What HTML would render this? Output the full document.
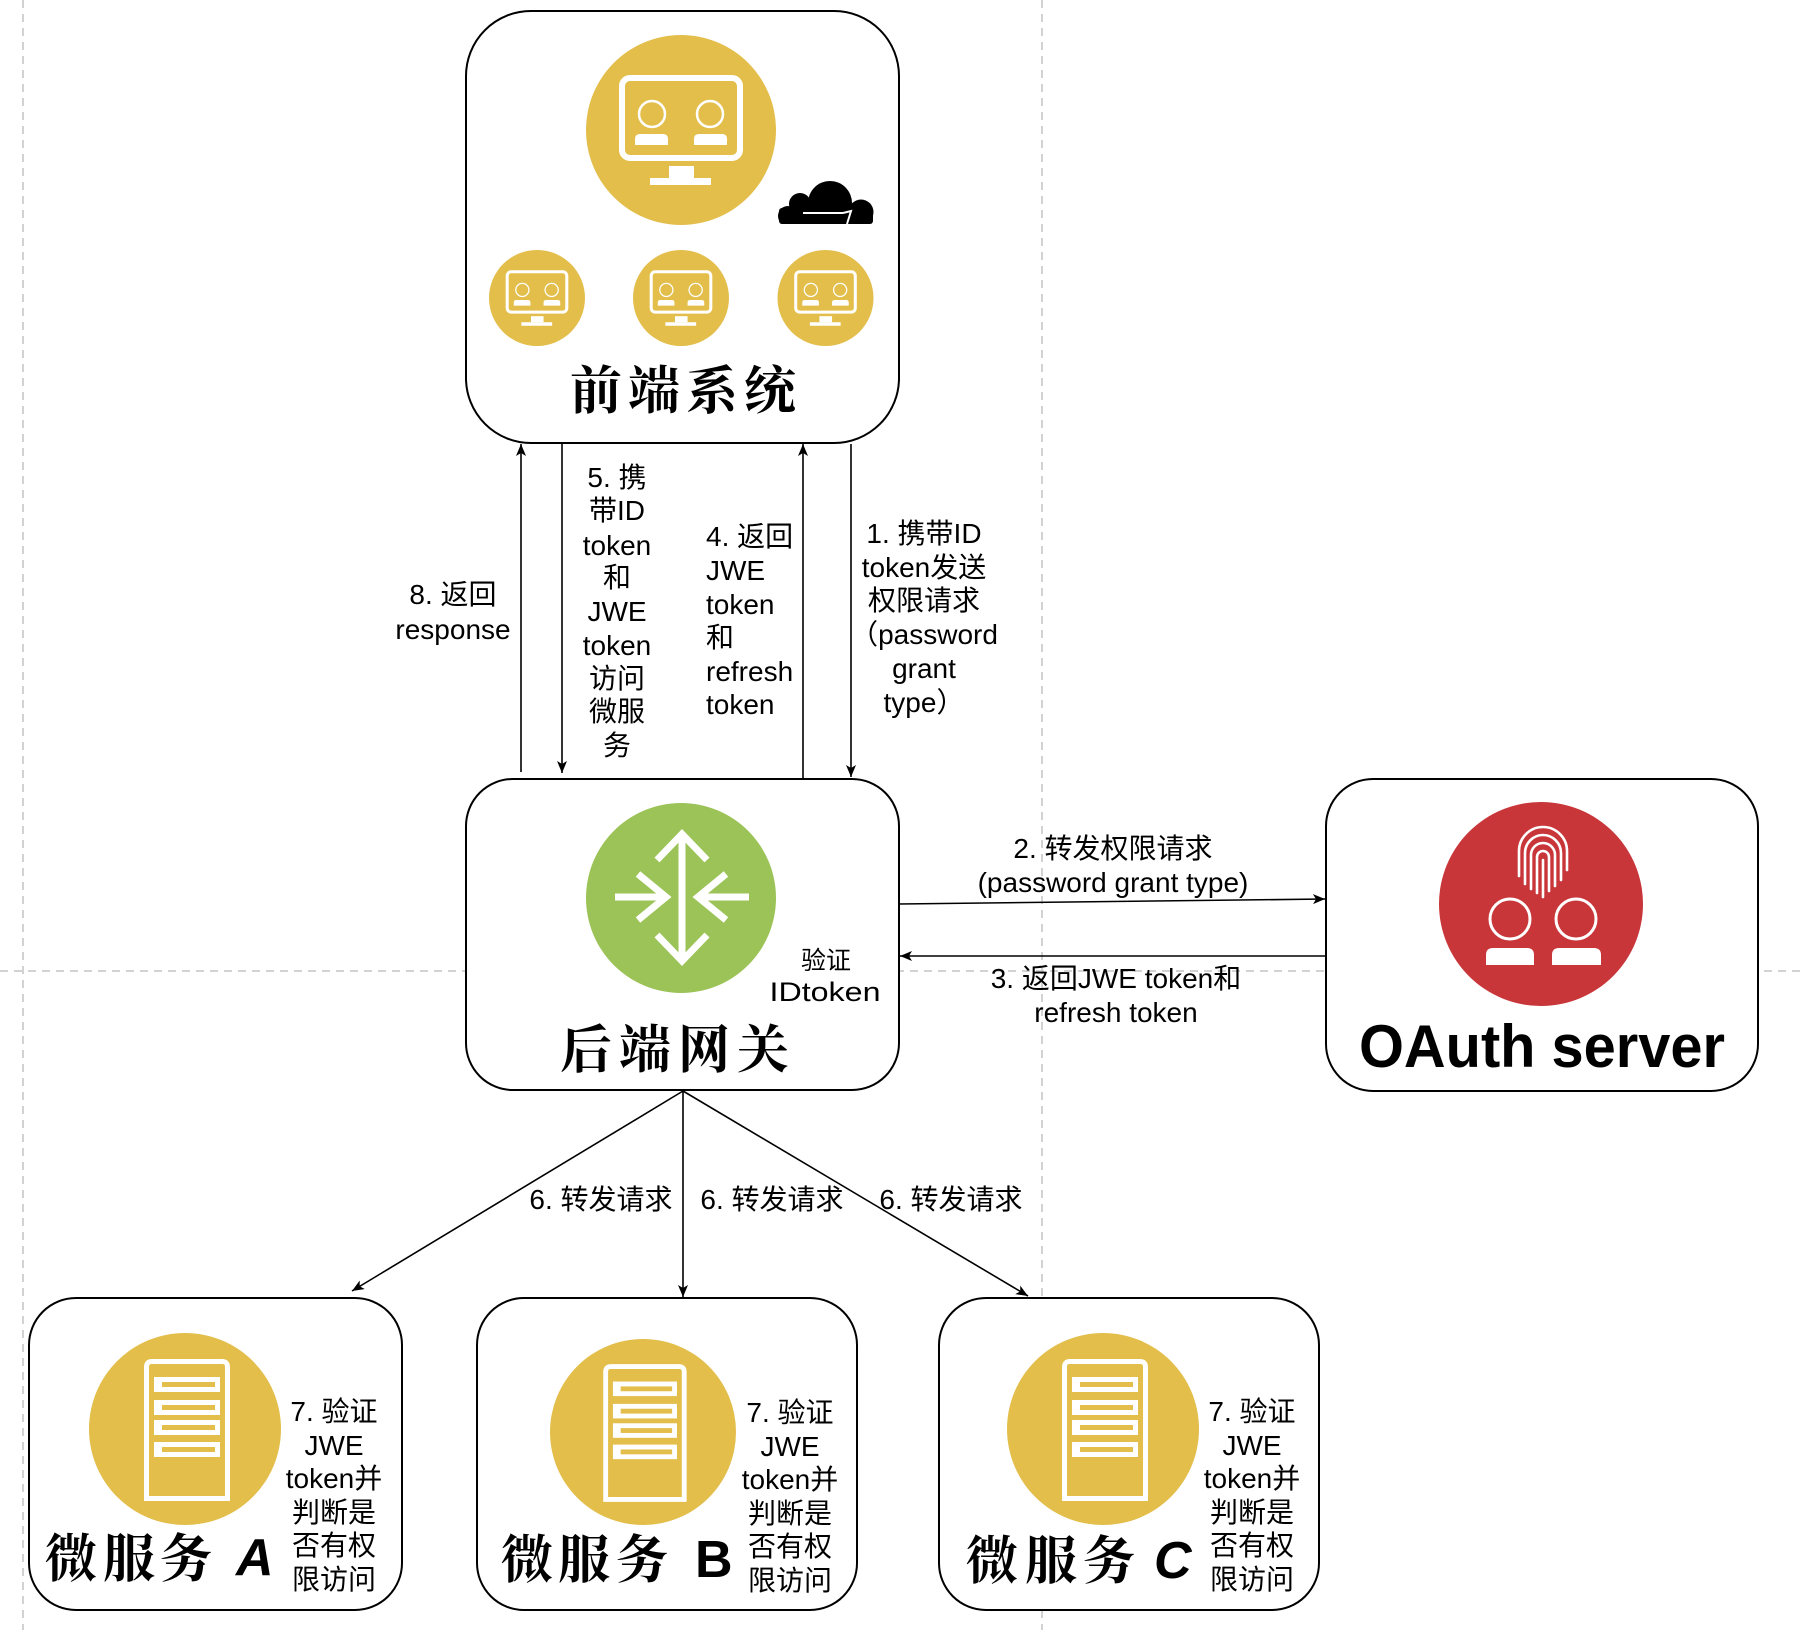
<!DOCTYPE html>
<html><head><meta charset="utf-8"><style>
html,body{margin:0;padding:0;background:#fff;}
svg{display:block;}
.t{font-family:"Liberation Sans","Noto Sans CJK SC",sans-serif;font-size:28px;fill:#000;}
.h{font-family:"Noto Serif CJK SC","Noto Sans CJK SC",serif;font-size:52px;font-weight:700;fill:#000;}
.L{font-family:"Liberation Sans",sans-serif;font-weight:700;fill:#000;}
</style></head><body>
<svg width="1802" height="1630" viewBox="0 0 1802 1630" xmlns="http://www.w3.org/2000/svg">
<defs>
<marker id="ar" viewBox="0 0 12 10" refX="12" refY="5" markerWidth="12" markerHeight="10" markerUnits="userSpaceOnUse" orient="auto"><path d="M0,0 L12,5 L0,10 L3,5 z" fill="#000"/></marker>
<g id="mon">
<rect x="-59" y="-52" width="118" height="80" rx="8" fill="none" stroke="#fff" stroke-width="6"/>
<circle cx="-29" cy="-16" r="13" fill="none" stroke="#fff" stroke-width="2.5"/>
<circle cx="29" cy="-16" r="13" fill="none" stroke="#fff" stroke-width="2.5"/>
<path d="M-46,15 V9 Q-46,4 -41,4 H-18 Q-13,4 -13,9 V15 Z" fill="#fff"/>
<path d="M13,15 V9 Q13,4 18,4 H41 Q46,4 46,9 V15 Z" fill="#fff"/>
<rect x="-12" y="36" width="25" height="12" fill="#fff"/>
<rect x="-31" y="48" width="61" height="7" fill="#fff"/>
</g>
<g id="srv">
<path d="M-38.5,69.5 V-62 Q-38.5,-67.5 -33,-67.5 H37 Q42.5,-67.5 42.5,-62 V69.5 Z" fill="none" stroke="#fff" stroke-width="5"/>
<rect x="-31" y="-52" width="66" height="15" fill="#fff"/><rect x="-23" y="-47" width="53" height="5" fill="#E3BE4B"/>
<rect x="-31" y="-29" width="66" height="15" fill="#fff"/><rect x="-23" y="-24" width="53" height="5" fill="#E3BE4B"/>
<rect x="-31" y="-9" width="66" height="15" fill="#fff"/><rect x="-23" y="-4" width="53" height="5" fill="#E3BE4B"/>
<rect x="-31" y="13" width="66" height="15" fill="#fff"/><rect x="-23" y="18" width="53" height="5" fill="#E3BE4B"/>
</g>
<clipPath id="cc"><rect x="770" y="170" width="110" height="54"/></clipPath>
</defs>
<rect width="1802" height="1630" fill="#fff"/>

<!-- dashed guide lines -->
<g stroke="#c4c4c4" stroke-width="1.5" stroke-dasharray="8 6" fill="none">
<line x1="23" y1="0" x2="23" y2="1630"/>
<line x1="1042" y1="0" x2="1042" y2="1630"/>
<line x1="0" y1="971" x2="1802" y2="971"/>
</g>

<!-- boxes -->
<g fill="#fff" stroke="#000" stroke-width="2">
<rect x="466" y="11" width="433" height="432" rx="65"/>
<rect x="466" y="779" width="433" height="311" rx="47"/>
<rect x="1326" y="779" width="432" height="312" rx="47"/>
<rect x="29" y="1298" width="373" height="312" rx="47"/>
<rect x="477" y="1298" width="380" height="312" rx="47"/>
<rect x="939" y="1298" width="380" height="312" rx="47"/>
</g>

<!-- front system icons -->
<circle cx="681" cy="130" r="95" fill="#E3BE4B"/>
<use href="#mon" transform="translate(681,130)"/>
<circle cx="537" cy="298" r="48" fill="#E3BE4B"/>
<use href="#mon" transform="translate(537,298) scale(0.505)"/>
<circle cx="681" cy="298" r="48" fill="#E3BE4B"/>
<use href="#mon" transform="translate(681,298) scale(0.505)"/>
<circle cx="825.5" cy="298" r="48" fill="#E3BE4B"/>
<use href="#mon" transform="translate(825.5,298) scale(0.505)"/>
<!-- cloud -->
<g fill="#000" clip-path="url(#cc)">
<circle cx="830" cy="203" r="22"/>
<circle cx="800" cy="204" r="11"/>
<circle cx="788" cy="216" r="10"/>
<circle cx="861" cy="212" r="12.5"/>
<rect x="779" y="208" width="94" height="16" rx="3"/>
</g>
<line x1="803" y1="213" x2="843" y2="213" stroke="#fff" stroke-width="2"/>
<path d="M843,213 L851,211 L847,224" stroke="#fff" stroke-width="2" fill="none"/>
<text class="h" y="409"><tspan x="570">前</tspan><tspan x="628">端</tspan><tspan x="686">系</tspan><tspan x="744">统</tspan></text>

<!-- gateway icon -->
<circle cx="681" cy="898" r="95" fill="#9CC357"/>
<g stroke="#fff" stroke-width="7" fill="none" stroke-linecap="butt">
<line x1="682" y1="836" x2="682" y2="959"/>
<polyline points="657,860 682,834 707,860"/>
<polyline points="657,935 682,961 707,935"/>
<line x1="615" y1="897" x2="665" y2="897"/>
<polyline points="638,874 666,897 638,920"/>
<line x1="749" y1="897" x2="699" y2="897"/>
<polyline points="726,874 698,897 726,920"/>
</g>
<text class="t" x="826" y="969" text-anchor="middle" style="font-size:25px">验证</text>
<text class="t" x="825" y="1001" text-anchor="middle" style="font-size:27px" textLength="111" lengthAdjust="spacingAndGlyphs">IDtoken</text>
<text class="h" y="1068"><tspan x="560">后</tspan><tspan x="619">端</tspan><tspan x="678">网</tspan><tspan x="737">关</tspan></text>

<!-- OAuth icon -->
<circle cx="1541" cy="904" r="102" fill="#C83639"/>
<g stroke="#fff" stroke-width="2.6" fill="none" stroke-linecap="round">
<path d="M1519,876 V851 A24,24 0 0 1 1567,851 V870"/>
<path d="M1525,884 V853 A18,18 0 0 1 1561,853 V880"/>
<path d="M1531,889 V855 A12,12 0 0 1 1555,855 V886"/>
<path d="M1537,893 V857 A6,6 0 0 1 1549,857 V891"/>
<path d="M1543,897 V860"/>
</g>
<circle cx="1510" cy="919" r="20" fill="none" stroke="#fff" stroke-width="3"/>
<circle cx="1576" cy="919" r="20" fill="none" stroke="#fff" stroke-width="3"/>
<path d="M1486,965 V955 Q1486,948 1493,948 H1527 Q1534,948 1534,955 V965 Z" fill="#fff"/>
<path d="M1552,965 V955 Q1552,948 1559,948 H1594 Q1601,948 1601,955 V965 Z" fill="#fff"/>
<text class="L" x="1359" y="1067" style="font-size:60px" textLength="366" lengthAdjust="spacingAndGlyphs">OAuth server</text>

<!-- microservices -->
<circle cx="185" cy="1429" r="96" fill="#E3BE4B"/>
<use href="#srv" transform="translate(185,1429)"/>
<circle cx="643" cy="1432" r="93" fill="#E3BE4B"/>
<use href="#srv" transform="translate(643,1432) scale(0.97)"/>
<circle cx="1103" cy="1429" r="96" fill="#E3BE4B"/>
<use href="#srv" transform="translate(1103,1429)"/>

<text class="h" y="1577"><tspan x="45">微</tspan><tspan x="103">服</tspan><tspan x="160">务</tspan></text>
<text class="L" x="236" y="1575" style="font-size:52px;font-style:italic">A</text>
<text class="h" y="1578"><tspan x="501">微</tspan><tspan x="558">服</tspan><tspan x="616">务</tspan></text>
<text class="L" x="695" y="1577" style="font-size:52px">B</text>
<text class="h" y="1579"><tspan x="966">微</tspan><tspan x="1025">服</tspan><tspan x="1083">务</tspan></text>
<text class="L" x="1154" y="1578" style="font-size:52px;font-style:italic">C</text>

<g class="t" text-anchor="middle">
<text x="334" y="1421">7. 验证</text><text x="334" y="1455">JWE</text><text x="334" y="1488">token并</text><text x="334" y="1522">判断是</text><text x="334" y="1555">否有权</text><text x="334" y="1589">限访问</text>
<text x="790" y="1422">7. 验证</text><text x="790" y="1456">JWE</text><text x="790" y="1489">token并</text><text x="790" y="1523">判断是</text><text x="790" y="1556">否有权</text><text x="790" y="1590">限访问</text>
<text x="1252" y="1421">7. 验证</text><text x="1252" y="1455">JWE</text><text x="1252" y="1488">token并</text><text x="1252" y="1522">判断是</text><text x="1252" y="1555">否有权</text><text x="1252" y="1589">限访问</text>
</g>

<!-- connectors -->
<g stroke="#000" stroke-width="1.6" fill="none" marker-end="url(#ar)">
<line x1="521" y1="772" x2="521" y2="444"/>
<line x1="562" y1="444" x2="562" y2="773"/>
<line x1="803" y1="779" x2="803" y2="444"/>
<line x1="851" y1="444" x2="851" y2="777"/>
<line x1="899" y1="904" x2="1325" y2="899"/>
<line x1="1326" y1="956" x2="900" y2="956"/>
<line x1="683" y1="1091" x2="352" y2="1291"/>
<line x1="683" y1="1091" x2="683" y2="1297"/>
<line x1="683" y1="1091" x2="1028" y2="1296"/>
</g>

<!-- labels -->
<g class="t" text-anchor="middle">
<text x="453" y="604">8. 返回</text><text x="453" y="639">response</text>

<text x="617" y="487">5. 携</text><text x="617" y="520">带ID</text><text x="617" y="555">token</text><text x="617" y="587">和</text><text x="617" y="621">JWE</text><text x="617" y="655">token</text><text x="617" y="688">访问</text><text x="617" y="721">微服</text><text x="617" y="755">务</text>

<text x="924" y="543">1. 携带ID</text><text x="924" y="577">token发送</text><text x="924" y="610">权限请求</text><text x="924" y="644">（password</text><text x="924" y="678">grant</text><text x="924" y="712">type）</text>

<text x="1113" y="858">2. 转发权限请求</text><text x="1113" y="892">(password grant type)</text>
<text x="1116" y="988">3. 返回JWE token和</text><text x="1116" y="1022">refresh token</text>

<text x="601" y="1209">6. 转发请求</text>
<text x="772" y="1209">6. 转发请求</text>
<text x="951" y="1209">6. 转发请求</text>
</g>
<g class="t">
<text x="706" y="546">4. 返回</text><text x="706" y="580">JWE</text><text x="706" y="614">token</text><text x="706" y="647">和</text><text x="706" y="681">refresh</text><text x="706" y="714">token</text>
</g>
</svg>
</body></html>
